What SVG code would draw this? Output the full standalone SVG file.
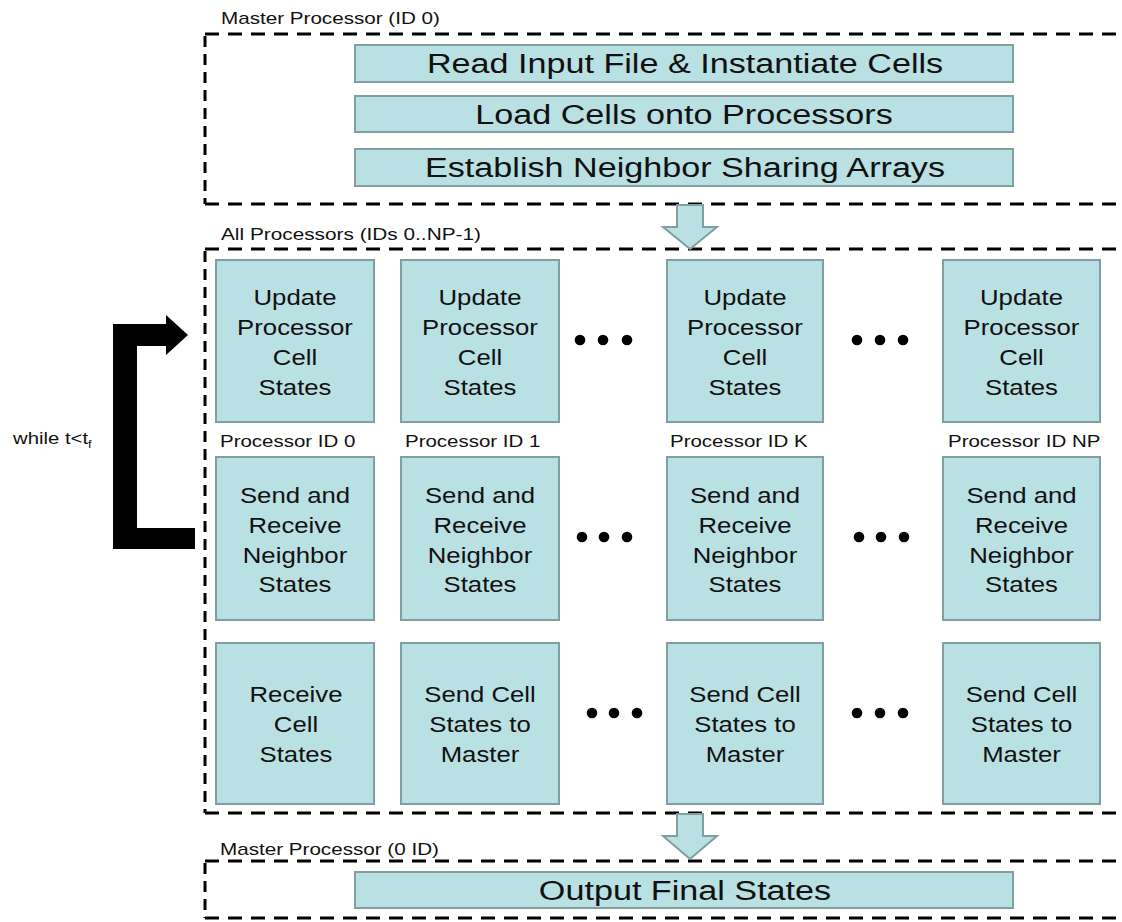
<svg xmlns="http://www.w3.org/2000/svg" width="1122" height="922" viewBox="0 0 1122 922">
<style>
  .bg { fill: #ffffff; }
  .box rect, .bar rect, .flow { fill: #b9e0e3; stroke: #7f9fa1; stroke-width: 2; }
  .hd { stroke: #000; stroke-width: 3; stroke-dasharray: 14 9; fill: none; }
  .vd { stroke: #000; stroke-width: 3; stroke-dasharray: 11 7; fill: none; }
  text { font-family: "Liberation Sans", Arial, sans-serif; fill: #111; }
  .bt { font-size: 28px; text-anchor: middle; }
  .nt { font-size: 22px; text-anchor: middle; }
  .lb { font-size: 16px; }
  .dot { fill: #000; }
  .loop { fill: #000; }
</style>
<rect class="bg" x="0" y="0" width="1122" height="922"/>

<!-- Group containers (dashed) -->
<g id="master-top">
  <line class="hd" x1="205" y1="34" x2="1122" y2="34"/>
  <line class="hd" x1="205" y1="204" x2="1122" y2="204"/>
  <line class="vd" x1="205" y1="36" x2="205" y2="204"/>
  <text class="lb" transform="translate(221 24) scale(1.29 1)">Master Processor (ID 0)</text>
</g>
<g id="all-procs">
  <line class="hd" x1="205" y1="249" x2="1122" y2="249"/>
  <line class="hd" x1="205" y1="813" x2="1122" y2="813"/>
  <line class="vd" x1="205" y1="251" x2="205" y2="813"/>
  <text class="lb" transform="translate(221 240) scale(1.3 1)">All Processors (IDs 0..NP-1)</text>
</g>
<g id="master-bottom">
  <line class="hd" x1="205" y1="861" x2="1122" y2="861"/>
  <line class="hd" x1="205" y1="918" x2="1122" y2="918"/>
  <line class="vd" x1="205" y1="863" x2="205" y2="918"/>
  <text class="lb" transform="translate(220 855) scale(1.29 1)">Master Processor (0 ID)</text>
</g>

<!-- Master steps -->
<g id="read-input" class="bar">
  <rect x="355" y="45" width="658" height="37"/>
  <text class="bt" transform="translate(685 73) scale(1.22 1)">Read Input File &amp; Instantiate Cells</text>
</g>
<g id="load-cells" class="bar">
  <rect x="355" y="96" width="658" height="36"/>
  <text class="bt" transform="translate(684 124) scale(1.22 1)">Load Cells onto Processors</text>
</g>
<g id="establish" class="bar">
  <rect x="355" y="149" width="658" height="37"/>
  <text class="bt" transform="translate(685 177) scale(1.22 1)">Establish Neighbor Sharing Arrays</text>
</g>
<g id="output" class="bar">
  <rect x="355" y="872" width="658" height="36"/>
  <text class="bt" transform="translate(685 900) scale(1.22 1)">Output Final States</text>
</g>

<!-- Row 1: update -->
<g id="update-0" class="box">
  <rect x="216" y="260" width="158" height="162"/>
  <text class="nt" transform="translate(295 0) scale(1.17 1)"><tspan x="0" y="305">Update</tspan><tspan x="0" y="335">Processor</tspan><tspan x="0" y="365">Cell</tspan><tspan x="0" y="395">States</tspan></text>
</g>
<g id="update-1" class="box">
  <rect x="401" y="260" width="158" height="162"/>
  <text class="nt" transform="translate(480 0) scale(1.17 1)"><tspan x="0" y="305">Update</tspan><tspan x="0" y="335">Processor</tspan><tspan x="0" y="365">Cell</tspan><tspan x="0" y="395">States</tspan></text>
</g>
<g id="update-k" class="box">
  <rect x="667" y="260" width="156" height="162"/>
  <text class="nt" transform="translate(745 0) scale(1.17 1)"><tspan x="0" y="305">Update</tspan><tspan x="0" y="335">Processor</tspan><tspan x="0" y="365">Cell</tspan><tspan x="0" y="395">States</tspan></text>
</g>
<g id="update-np" class="box">
  <rect x="943" y="260" width="157" height="162"/>
  <text class="nt" transform="translate(1021.5 0) scale(1.17 1)"><tspan x="0" y="305">Update</tspan><tspan x="0" y="335">Processor</tspan><tspan x="0" y="365">Cell</tspan><tspan x="0" y="395">States</tspan></text>
</g>

<!-- Processor labels -->
<g id="proc-labels">
  <text class="lb" transform="translate(220 447) scale(1.28 1)">Processor ID 0</text>
  <text class="lb" transform="translate(405 447) scale(1.28 1)">Processor ID 1</text>
  <text class="lb" transform="translate(670 447) scale(1.28 1)">Processor ID K</text>
  <text class="lb" transform="translate(948 447) scale(1.28 1)">Processor ID NP</text>
</g>

<!-- Row 2: send/receive -->
<g id="sendrecv-0" class="box">
  <rect x="216" y="457" width="158" height="163"/>
  <text class="nt" transform="translate(295 0) scale(1.17 1)"><tspan x="0" y="503">Send and</tspan><tspan x="0" y="533">Receive</tspan><tspan x="0" y="563">Neighbor</tspan><tspan x="0" y="592">States</tspan></text>
</g>
<g id="sendrecv-1" class="box">
  <rect x="401" y="457" width="158" height="163"/>
  <text class="nt" transform="translate(480 0) scale(1.17 1)"><tspan x="0" y="503">Send and</tspan><tspan x="0" y="533">Receive</tspan><tspan x="0" y="563">Neighbor</tspan><tspan x="0" y="592">States</tspan></text>
</g>
<g id="sendrecv-k" class="box">
  <rect x="667" y="457" width="156" height="163"/>
  <text class="nt" transform="translate(745 0) scale(1.17 1)"><tspan x="0" y="503">Send and</tspan><tspan x="0" y="533">Receive</tspan><tspan x="0" y="563">Neighbor</tspan><tspan x="0" y="592">States</tspan></text>
</g>
<g id="sendrecv-np" class="box">
  <rect x="943" y="457" width="157" height="163"/>
  <text class="nt" transform="translate(1021.5 0) scale(1.17 1)"><tspan x="0" y="503">Send and</tspan><tspan x="0" y="533">Receive</tspan><tspan x="0" y="563">Neighbor</tspan><tspan x="0" y="592">States</tspan></text>
</g>

<!-- Row 3 -->
<g id="receive-0" class="box">
  <rect x="216" y="643" width="158" height="161"/>
  <text class="nt" transform="translate(296 0) scale(1.17 1)"><tspan x="0" y="702">Receive</tspan><tspan x="0" y="732">Cell</tspan><tspan x="0" y="762">States</tspan></text>
</g>
<g id="sendmaster-1" class="box">
  <rect x="401" y="643" width="158" height="161"/>
  <text class="nt" transform="translate(480 0) scale(1.17 1)"><tspan x="0" y="702">Send Cell</tspan><tspan x="0" y="732">States to</tspan><tspan x="0" y="762">Master</tspan></text>
</g>
<g id="sendmaster-k" class="box">
  <rect x="667" y="643" width="156" height="161"/>
  <text class="nt" transform="translate(745 0) scale(1.17 1)"><tspan x="0" y="702">Send Cell</tspan><tspan x="0" y="732">States to</tspan><tspan x="0" y="762">Master</tspan></text>
</g>
<g id="sendmaster-np" class="box">
  <rect x="943" y="643" width="157" height="161"/>
  <text class="nt" transform="translate(1021.5 0) scale(1.17 1)"><tspan x="0" y="702">Send Cell</tspan><tspan x="0" y="732">States to</tspan><tspan x="0" y="762">Master</tspan></text>
</g>

<!-- Ellipses -->
<g id="ellipses">
  <circle class="dot" cx="580" cy="340" r="5.3"/><circle class="dot" cx="603" cy="340" r="5.3"/><circle class="dot" cx="627" cy="340" r="5.3"/>
  <circle class="dot" cx="857" cy="340" r="5.3"/><circle class="dot" cx="880" cy="340" r="5.3"/><circle class="dot" cx="903" cy="340" r="5.3"/>
  <circle class="dot" cx="582" cy="537" r="5.3"/><circle class="dot" cx="604" cy="537" r="5.3"/><circle class="dot" cx="627" cy="537" r="5.3"/>
  <circle class="dot" cx="859" cy="537" r="5.3"/><circle class="dot" cx="881" cy="537" r="5.3"/><circle class="dot" cx="904" cy="537" r="5.3"/>
  <circle class="dot" cx="592" cy="713" r="5.3"/><circle class="dot" cx="614" cy="713" r="5.3"/><circle class="dot" cx="637" cy="713" r="5.3"/>
  <circle class="dot" cx="857" cy="713" r="5.3"/><circle class="dot" cx="880" cy="713" r="5.3"/><circle class="dot" cx="903" cy="713" r="5.3"/>
</g>

<!-- Connectors -->
<g id="connectors">
  <polygon class="flow" points="677,205 703,205 703,227 717,227 690,249 663,227 677,227"/>
  <polygon class="flow" points="677,814 703,814 703,836 717,836 690,859 663,836 677,836"/>
  <polygon class="loop" points="113,324 166,324 166,315 188,335 166,355 166,346 137,346 137,528 195,528 195,549 113,549"/>
  <text class="lb" transform="translate(13 444) scale(1.27 1)">while t&lt;t<tspan font-size="10" dy="4">f</tspan></text>
</g>
</svg>
